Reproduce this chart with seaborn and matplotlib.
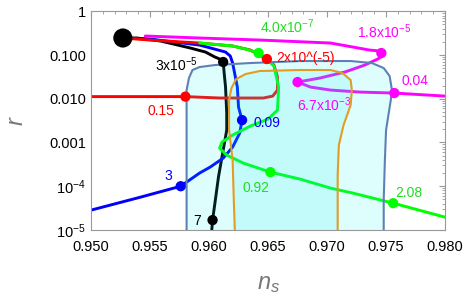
import matplotlib
matplotlib.use("Agg")
import matplotlib.pyplot as plt
from matplotlib.ticker import MultipleLocator, FormatStrFormatter, LogLocator, FixedLocator, FixedFormatter, NullFormatter
import seaborn as sns

# common starting point of all curves
start_ns = [0.9527]
start_r = [0.245]

# curves (ns, r)
black_ns = [0.9527, 0.9539, 0.9559, 0.9584, 0.9597, 0.9605, 0.9611, 0.9612, 0.9613, 0.9614,
            0.9615, 0.9615, 0.9612, 0.9608, 0.9605, 0.9603, 0.9602]
black_r = [0.245, 0.245, 0.209, 0.145, 0.117, 0.090, 0.0769, 0.0692, 0.0348, 0.0185,
           0.00471, 0.00192, 0.00067, 0.000162, 4.1e-5, 1.68e-5, 7.7e-6]

blue_ns = [0.9527, 0.9550, 0.9592, 0.9614, 0.9618, 0.9620, 0.9624, 0.9625, 0.9628, 0.9626,
           0.9620, 0.9612, 0.9601, 0.9592, 0.9576, 0.9542, 0.9500]
blue_r = [0.245, 0.232, 0.169, 0.117, 0.0949, 0.0656, 0.0185, 0.00646, 0.00325, 0.00164,
          0.000785, 0.000439, 0.000274, 0.000200, 0.000100, 5.63e-5, 2.84e-5]

red_ns = [0.9527, 0.9550, 0.9592, 0.9620, 0.9635, 0.9649, 0.9655, 0.9658, 0.9658, 0.9654,
          0.9646, 0.9609, 0.9580, 0.9500]
red_r = [0.245, 0.220, 0.188, 0.161, 0.130, 0.0810, 0.0590, 0.0314, 0.0158, 0.0115,
         0.0104, 0.0104, 0.0112, 0.0112]

green_ns = [0.9592, 0.9620, 0.9631, 0.9642, 0.9649, 0.9655, 0.9659, 0.9658, 0.9650, 0.9635,
            0.9620, 0.9611, 0.9609, 0.9615, 0.9629, 0.9652, 0.9677, 0.9703, 0.9722, 0.9756, 0.9800]
green_r = [0.188, 0.161, 0.137, 0.111, 0.081, 0.056, 0.0185, 0.00551, 0.00343, 0.00237,
           0.00148, 0.00102, 0.000745, 0.000515, 0.000338, 0.000210, 0.000146, 9.05e-5, 6.95e-5,
           4.1e-5, 1.96e-5]

magenta_ns = [0.9546, 0.9592, 0.9643, 0.9703, 0.9736, 0.9744, 0.9748, 0.9743, 0.9732, 0.9715,
              0.9694, 0.9675, 0.9686, 0.9703, 0.9728, 0.9757, 0.9800]
magenta_r = [0.272, 0.245, 0.220, 0.188, 0.130, 0.124, 0.100, 0.081, 0.059, 0.0408,
             0.0298, 0.0241, 0.0185, 0.0158, 0.0142, 0.0135, 0.0115]

# confidence regions
outer_ns = [0.9581, 0.9581, 0.9581, 0.9583, 0.9586, 0.9592, 0.9605, 0.9635, 0.9677, 0.9720,
            0.9738, 0.9748, 0.9753, 0.9755, 0.9754, 0.9752, 0.9750, 0.9749, 0.9748, 0.9748]
outer_r = [7.7e-6, 0.00325, 0.0158, 0.0298, 0.0454, 0.0531, 0.0590, 0.0656, 0.0729, 0.0729,
           0.0656, 0.0504, 0.0331, 0.0158, 0.00934, 0.00424, 0.00192, 0.000395, 4.81e-5, 7.7e-6]

inner_ns = [0.9622, 0.9621, 0.9620, 0.9617, 0.9617, 0.9619, 0.9623, 0.9631, 0.9643, 0.9677,
            0.9703, 0.9713, 0.9720, 0.9721, 0.9720, 0.9714, 0.9710, 0.9709, 0.9709]
inner_r = [7.7e-6, 4.81e-5, 0.000395, 0.00192, 0.00934, 0.0176, 0.0282, 0.0367, 0.0431, 0.0454,
           0.0454, 0.0387, 0.0268, 0.0158, 0.00718, 0.00250, 0.000872, 0.000180, 7.7e-6]

# marked points and their labels
dot_ns = [0.9612, 0.9603, 0.9628, 0.9576, 0.9649, 0.9580, 0.9642, 0.9652, 0.9756, 0.9746, 0.9675, 0.9757]
dot_r = [0.0692, 1.68e-5, 0.00325, 0.000100, 0.0810, 0.0112, 0.111, 0.000210, 4.1e-5, 0.111, 0.0241, 0.0135]
dot_col = ["black", "black", "blue", "blue", "red", "red", "#00ff00", "#00ff00", "#00ff00",
           "magenta", "magenta", "magenta"]

lab_text = [r"3x10$^{-5}$", "7", "0.09", "3", "2x10^(-5)", "0.15", r"4.0x10$^{-7}$", "0.92", "2.08",
            r"1.8x10$^{-5}$", r"6.7x10$^{-3}$", "0.04"]
lab_ns = [0.95542, 0.95864, 0.96373, 0.95619, 0.96568, 0.95475, 0.96432, 0.96280, 0.97576,
          0.97254, 0.96746, 0.97627]
lab_r = [0.0431, 1.29e-5, 0.00225, 0.000138, 0.0692, 0.00424, 0.319, 7.33e-5, 5.63e-5,
         0.245, 0.00523, 0.0206]
lab_col = ["black", "black", "blue", "blue", "red", "red", "#22dd22", "#22dd22", "#22dd22",
           "magenta", "magenta", "magenta"]

sns.set_style("white")
plt.rcParams["font.family"] = ["Liberation Sans", "DejaVu Sans"]
plt.rcParams["mathtext.fontset"] = "custom"
plt.rcParams["mathtext.rm"] = "Liberation Sans"
plt.rcParams["mathtext.it"] = "Liberation Sans:italic"

fig = plt.figure(figsize=(4.69, 3.01), dpi=100)
ax = fig.add_axes([0.194, 0.236, 0.755, 0.7265])
ax.set_yscale("log")

curves = [(black_ns, black_r, "black"), (blue_ns, blue_r, "blue"), (red_ns, red_r, "red"),
          (green_ns, green_r, "#00ff00"), (magenta_ns, magenta_r, "magenta")]
for xs, ys, c in curves:
    sns.lineplot(x=xs, y=ys, sort=False, estimator=None, color=c, lw=2.1, ax=ax, zorder=2)

fill_c = (0.0, 0.94, 0.94)
ax.fill(outer_ns, outer_r, color=fill_c, alpha=0.13, lw=0, zorder=3)
ax.fill(inner_ns, inner_r, color=fill_c, alpha=0.12, lw=0, zorder=3)
sns.lineplot(x=outer_ns, y=outer_r, sort=False, estimator=None, color="#5e81b5", lw=1.5, ax=ax, zorder=4)
sns.lineplot(x=inner_ns, y=inner_r, sort=False, estimator=None, color="#e19c24", lw=1.5, ax=ax, zorder=4)

sns.scatterplot(x=dot_ns, y=dot_r, hue=list(range(len(dot_ns))), palette=dot_col, s=55,
                edgecolor="none", legend=False, ax=ax, zorder=5)
sns.scatterplot(x=start_ns, y=start_r, color="black", s=190, edgecolor="none", legend=False,
                ax=ax, zorder=6)

for t, x, y, c in zip(lab_text, lab_ns, lab_r, lab_col):
    ax.text(x, y, t, color=c, fontsize=10, ha="left", va="baseline", zorder=7)

ax.set_xlim(0.95, 0.98)
ax.set_ylim(1e-5, 1)
ax.xaxis.set_major_locator(MultipleLocator(0.005))
ax.xaxis.set_minor_locator(MultipleLocator(0.001))
ax.xaxis.set_major_formatter(FormatStrFormatter("%.3f"))
ax.yaxis.set_major_locator(FixedLocator([1e-5, 1e-4, 1e-3, 1e-2, 1e-1, 1]))
ax.yaxis.set_major_formatter(FixedFormatter([r"$10^{-5}$", r"$10^{-4}$", "0.001", "0.010", "0.100", "1"]))
ax.yaxis.set_minor_locator(LogLocator(base=10, subs=range(2, 10), numticks=20))
ax.yaxis.set_minor_formatter(NullFormatter())
ax.tick_params(which="both", direction="in", top=True, right=True, color="#999999",
               labelsize=10.5, labelcolor="black")
ax.tick_params(which="major", length=4, width=0.8)
ax.tick_params(which="minor", length=2, width=0.6)
ax.tick_params(axis="x", which="major", pad=7)
for s in ax.spines.values():
    s.set_color("#999999")
    s.set_linewidth(0.8)
ax.set_xlabel("")
ax.set_ylabel("")
ax.text(0.5, -0.245, r"$n_s$", transform=ax.transAxes, fontsize=17, color="#777777",
        ha="center", va="center")
ax.text(-0.21, 0.5, r"$r$", transform=ax.transAxes, fontsize=17, color="#777777",
        ha="center", va="center", rotation=90)

fig.savefig("out.png", dpi=100)
